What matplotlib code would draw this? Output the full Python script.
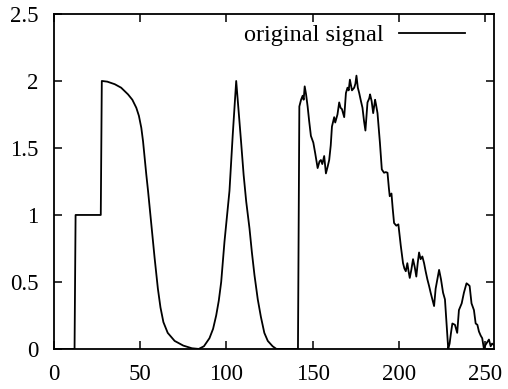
import matplotlib
matplotlib.use('Agg')
import matplotlib.pyplot as plt

# values, piece by piece
step_x = [0, 12, 12.6, 27.2, 27.8]
step_y = [0, 0, 1.0, 1.0, 2.0]

decay_x = [28, 31, 35.3, 39, 43, 45.5, 47.8, 49.3, 50.7, 51.7, 52.6, 53.6, 54.6,
           56.5, 58.4, 60.3, 61.8, 63.5, 66, 70, 75, 80, 84]
decay_y = [2.0, 1.995, 1.976, 1.95, 1.90, 1.86, 1.80, 1.74, 1.65, 1.55, 1.43, 1.30, 1.18,
           0.93, 0.68, 0.45, 0.31, 0.20, 0.12, 0.06, 0.025, 0.005, 0.0]

peak_x = [87, 90.2, 92.3, 94.1, 95.6, 97, 98.9, 101.8, 103.7, 105.7,
          107.2, 108.5, 110, 111.5, 113.4, 114.8, 116.3, 118.2, 120, 122, 124, 126.8, 129, 141.5]
peak_y = [0.02, 0.08, 0.15, 0.25, 0.36, 0.50, 0.80, 1.18, 1.60, 2.0,
          1.76, 1.55, 1.30, 1.10, 0.90, 0.72, 0.55, 0.37, 0.24, 0.12, 0.06, 0.02, 0.0, 0.0]

noisy_x = [142.3, 143.3, 144.2, 144.8, 145.4, 146.2, 147.1, 148, 149, 150.4, 151.5, 152.9,
           154, 154.8, 155.6, 156.7, 157.7, 158.7, 159.6, 160.5, 161.2, 162.5, 163.1, 164.4,
           165.4, 166.2, 167, 168.3, 169.3, 170.2, 170.9, 171.6, 172.8, 174.1, 174.8, 175.4,
           176.2, 177, 178, 178.9, 179.8, 180.6, 181.8, 182.8, 183.3, 184.2, 185.1, 186.2,
           186.8, 187.6, 188.3, 189, 190.1, 191.4, 192.4, 193.4, 194.2, 194.7, 195.7, 196.4,
           197.2, 198.5, 199.7, 200.4, 201.1, 202.4, 203.2, 204, 204.9, 205.6, 206.3, 207.2,
           208.2, 209.2, 210.1, 210.9, 211.7, 212.6, 213.6, 214.6, 215.5, 216.5, 217.5, 218.4,
           219.4, 220.4, 221.3, 222.3, 223.3, 224.4, 225.6, 226.7, 227.6, 228.6, 229.4, 230.2,
           231, 232.5, 233.8, 234.8, 236.4, 237.7, 239.2, 240.2, 241, 242.1, 243.5, 244.5,
           245.5, 246.4, 247.4, 248.3, 249.3, 250.2, 251.2, 252.2, 253.2, 254, 255]
noisy_y = [1.81, 1.86, 1.89, 1.86, 1.96, 1.90, 1.81, 1.70, 1.59, 1.54, 1.46, 1.35,
           1.40, 1.41, 1.38, 1.44, 1.31, 1.36, 1.41, 1.52, 1.66, 1.73, 1.69, 1.75,
           1.84, 1.80, 1.79, 1.73, 1.91, 1.95, 1.93, 2.01, 1.93, 1.95, 1.98, 2.04,
           1.95, 1.91, 1.85, 1.80, 1.70, 1.63, 1.84, 1.87, 1.90, 1.85, 1.76, 1.86,
           1.82, 1.76, 1.65, 1.54, 1.34, 1.315, 1.32, 1.315, 1.20, 1.14, 1.16, 1.05,
           0.94, 0.92, 0.93, 0.85, 0.77, 0.64, 0.60, 0.58, 0.64, 0.58, 0.53, 0.59,
           0.67, 0.61, 0.54, 0.64, 0.72, 0.67, 0.69, 0.64, 0.58, 0.52, 0.47, 0.42,
           0.37, 0.32, 0.45, 0.52, 0.59, 0.52, 0.42, 0.37, 0.20, 0.0, 0.04, 0.12,
           0.19, 0.18, 0.12, 0.29, 0.34, 0.42, 0.49, 0.48, 0.47, 0.34, 0.29, 0.19,
           0.18, 0.13, 0.10, 0.08, 0.0, 0.03, 0.05, 0.07, 0.02, 0.04, 0.03]

x = step_x + decay_x + peak_x + noisy_x
y = step_y + decay_y + peak_y + noisy_y

plt.rcParams['font.family'] = ['Liberation Serif', 'DejaVu Serif']

fig = plt.figure(figsize=(5.08, 3.89), dpi=100)
ax = fig.add_axes([0.106, 0.103, 0.866, 0.861])

ax.plot(x, y, color='black', lw=1.3, label='original signal')

ax.set_xlim(0, 255)
ax.set_ylim(0, 2.5)
ax.set_xticks([0, 50, 100, 150, 200, 250])
ax.set_yticks([0, 0.5, 1, 1.5, 2, 2.5])
ax.set_yticklabels(['0', '0.5', '1', '1.5', '2', '2.5'])
ax.tick_params(direction='in', length=6, width=1.1, top=True, right=True,
               labelsize=16.5, pad=10.5)
ax.tick_params(axis='y', pad=11)
for s in ax.spines.values():
    s.set_linewidth(1.3)

# gnuplot-like key: text, then the line sample
ax.legend(loc='upper right', bbox_to_anchor=(465 / 508, 1 - 24 / 389),
          bbox_transform=fig.transFigure, frameon=False, markerfirst=False,
          handlelength=2.7, fontsize=17.5, borderaxespad=0, borderpad=0,
          handletextpad=0.65)

fig.savefig('out.png', dpi=100)
